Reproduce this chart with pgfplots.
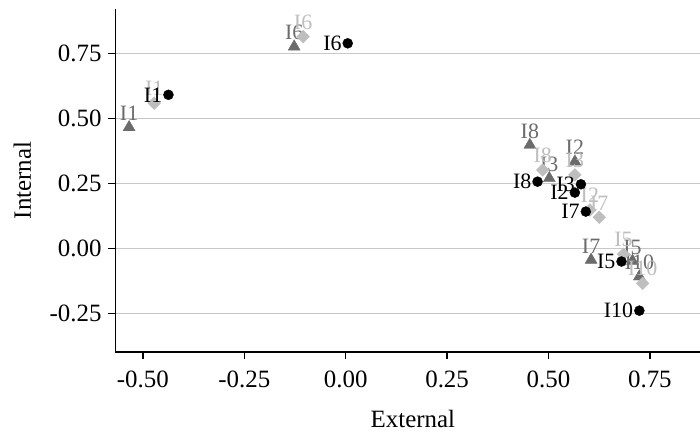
\documentclass[border=0pt]{standalone}
\usepackage{fontspec}
\setmainfont{Liberation Serif}
\usepackage{pgfplots}
\pgfplotsset{compat=1.18}
\usepackage{pgfplotstable}

\definecolor{dgray}{HTML}{6B6B6B}
\definecolor{lgray}{HTML}{BEBEBE}
\definecolor{gridc}{HTML}{C8C8C8}

\pgfplotstableread{
x y label
-0.437 0.590 I1
0.565 0.214 I2
0.580 0.246 I3
0.680 -0.051 I5
0.005 0.788 I6
0.592 0.141 I7
0.473 0.256 I8
0.724 -0.240 I10
}\blacktab

\pgfplotstableread{
x y label
-0.534 0.465 I1
0.565 0.333 I2
0.502 0.269 I3
0.707 -0.049 I5
-0.127 0.775 I6
0.605 -0.045 I7
0.454 0.397 I8
0.724 -0.109 I10
}\tritab

\pgfplotstableread{
x y label
-0.472 0.558 I1
0.602 0.147 I2
0.565 0.282 I3
0.685 -0.023 I5
-0.105 0.814 I6
0.625 0.119 I7
0.486 0.301 I8
0.732 -0.135 I10
}\diatab

\begin{document}
\begin{tikzpicture}
\begin{axis}[name=ax, at={(0,0)}, anchor=south west,
  scale only axis, width=584.7bp, height=343bp,
  xmin=-0.568, xmax=0.8735, ymin=-0.399, ymax=0.920,
  axis x line*=bottom, axis y line*=left,
  axis line style={line width=1.3bp, black},
  xtick={-0.5,-0.25,0,0.25,0.5,0.75},
  xticklabels={-0.50,-0.25,0.00,0.25,0.50,0.75},
  ytick={-0.25,0,0.25,0.5,0.75},
  yticklabels={-0.25,0.00,0.25,0.50,0.75},
  tick align=outside, major tick length=7bp,
  tick style={line width=1.3bp, black},
  ymajorgrids, grid style={gridc, line width=1bp},
  ticklabel style={font=\fontsize{25}{30}\selectfont, inner sep=0pt},
  xticklabel style={anchor=north}, xticklabel shift=11.5bp,
  yticklabel style={anchor=east}, yticklabel shift=6.6bp,
  label style={font=\fontsize{25}{30}\selectfont, inner sep=0pt},
  xlabel={External}, ylabel={Internal},
  xlabel style={at={(axis description cs:0.509,-0.2187)}, anchor=base},
  ylabel style={at={(axis description cs:-0.1435,0.5)}, anchor=south},
  clip=false,
]
\addplot[only marks, mark=triangle*, mark size=6.9bp, color=dgray,
  nodes near coords, point meta=explicit symbolic,
  every node near coord/.append style={anchor=south, inner sep=0pt, yshift=6.5bp,
    font=\fontsize{22}{26}\selectfont, text=dgray}]
  table[x=x, y=y, meta=label] {\tritab};
\addplot[only marks, mark=square*, mark size=4.5bp, color=lgray, mark options={rotate=45},
  nodes near coords, point meta=explicit symbolic,
  every node near coord/.append style={anchor=south, inner sep=0pt, yshift=7bp, rotate=0,
    font=\fontsize{22}{26}\selectfont, text=lgray}]
  table[x=x, y=y, meta=label] {\diatab};
\addplot[only marks, mark=*, mark size=5bp, color=black,
  nodes near coords, point meta=explicit symbolic,
  every node near coord/.append style={anchor=east, inner sep=0pt, xshift=-6bp,
    font=\fontsize{22}{26}\selectfont, text=black}]
  table[x=x, y=y, meta=label] {\blacktab};
\end{axis}
\pgfresetboundingbox
\path[use as bounding box] (-115.3bp,-83bp) rectangle (584.7bp,352bp);
\end{tikzpicture}
\end{document}
